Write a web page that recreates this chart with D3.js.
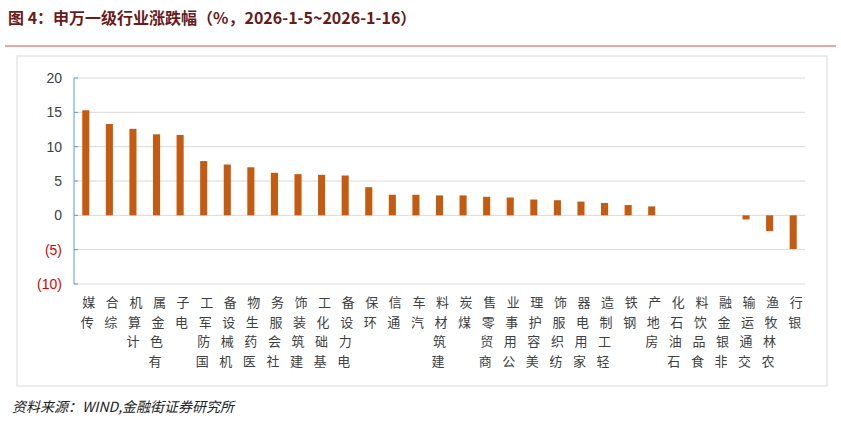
<!DOCTYPE html><html><head><meta charset="utf-8"><script src="https://cdn.jsdelivr.net/npm/d3@7"></script>
<style>body{margin:0;background:#fff}</style></head><body><svg id="c" width="841" height="423"></svg>
<script>
const categories=["传媒","综合","计算机","有色金属","电子","国防军工","机械设备","医药生物","社会服务","建筑装饰","基础化工","电力设备","环保","通信","汽车","建筑材料","煤炭","商贸零售","公用事业","美容护理","纺织服饰","家用电器","轻工制造","钢铁","房地产","石油石化","食品饮料","非银金融","交通运输","农林牧渔","银行"];
const values=[15.3,13.3,12.6,11.8,11.7,7.9,7.4,7.0,6.2,6.0,5.9,5.8,4.1,3.0,3.0,2.9,2.9,2.7,2.6,2.3,2.2,2.0,1.8,1.5,1.3,0,0,0,-0.6,-2.3,-4.9];
const ticks=[20,15,10,5,0,-5,-10];
const svg=d3.select("#c");const F="'Noto Sans CJK SC',sans-serif";
svg.append("text").attr("x",8).attr("y",24).attr("font-family",F).attr("font-size",16).attr("font-weight","bold").attr("fill","#6b1a1a").text("图 4：申万一级行业涨跌幅（%，2026-1-5~2026-1-16）");
svg.append("line").attr("x1",5).attr("x2",836).attr("y1",46).attr("y2",46).attr("stroke","#d05050").attr("stroke-width",1.2);
svg.append("rect").attr("x",17).attr("y",56).attr("width",810).attr("height",330).attr("fill","none").attr("stroke","#d9d9d9");
const y=d3.scaleLinear().domain([-10,20]).range([284,78]);
const x=d3.scaleBand().domain(categories).range([74,805]).paddingInner(0.7).paddingOuter(0.35);
svg.append("g").selectAll("line").data(ticks).join("line").attr("x1",74).attr("x2",805).attr("y1",d=>y(d)).attr("y2",d=>y(d)).attr("stroke","#d9d9d9");
svg.append("line").attr("x1",74).attr("x2",74).attr("y1",y(20)).attr("y2",y(-10)).attr("stroke","#5b9bd5");
svg.append("g").selectAll("line").data(ticks).join("line").attr("x1",74).attr("x2",78).attr("y1",d=>y(d)).attr("y2",d=>y(d)).attr("stroke","#5b9bd5");
svg.append("g").selectAll("text").data(ticks).join("text").attr("x",62).attr("y",d=>y(d)+5).attr("text-anchor","end").attr("font-family","Arial,'Liberation Sans'").attr("font-size",14).attr("fill",d=>d<0?"#e00000":"#404040").text(d=>d<0?`(${-d})`:d);
svg.append("g").selectAll("rect").data(values).join("rect").attr("x",(d,i)=>x(categories[i])).attr("width",x.bandwidth()).attr("y",d=>y(Math.max(0,d))).attr("height",d=>Math.abs(y(d)-y(0))).attr("fill","#c55a11");
const lg=svg.append("g");
categories.forEach((c,i)=>{const cx=x(c)+x.bandwidth()/2;const n=c.length;
 [...c].forEach((ch,j)=>{const k=n-1-j;lg.append("text").attr("x",cx+3-k*1.5).attr("y",307+k*19.5).attr("text-anchor","middle").attr("font-family",F).attr("font-size",13).attr("fill","#404040").text(ch);});});
svg.append("text").attr("x",12).attr("y",412).attr("font-family",F).attr("font-size",14).attr("font-style","italic").attr("fill","#222").text("资料来源：WIND,金融街证券研究所");
</script></body></html>
